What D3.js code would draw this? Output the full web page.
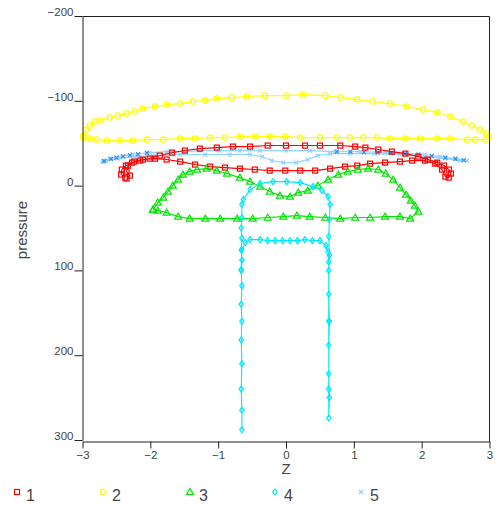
<!DOCTYPE html>
<html>
<head>
<meta charset="utf-8">
<script src="https://cdn.jsdelivr.net/npm/d3@7"></script>
<style>
  body { margin: 0; background: #fff; }
  text { font-family: "Liberation Sans", Arial, sans-serif; fill: #444; }
</style>
</head>
<body>
<svg id="chart" width="499" height="507"></svg>
<script>
// series as [Z, pressure] pairs
const series1 = [[-2.37,-9.4],[-2.43,-13],[-2.42,-18.9],[-2.36,-23.6],[-2.27,-27.1],[-2.15,-29.5],[-2.01,-31.8],[-1.86,-35.4],[-1.68,-38.9],[-1.49,-41.3],[-1.27,-43.6],[-1.02,-44.8],[-0.78,-46],[-0.53,-46],[-0.27,-47.2],[0,-47.2],[0.28,-47.2],[0.5,-47.2],[0.8,-47.2],[1.02,-46],[1.17,-44.8],[1.36,-42.5],[1.56,-40.1],[1.76,-37.7],[1.95,-34.2],[2.09,-30.7],[2.23,-27.1],[2.33,-23.6],[2.4,-18.9],[2.43,-14.2],[2.4,-9.4],[2.35,-10.6],[2.3,-18.9],[2.2,-25.9],[2.05,-29.5],[1.86,-29.5],[1.68,-28.3],[1.46,-27.1],[1.24,-25.9],[1.05,-23.6],[0.87,-22.4],[0.65,-20],[0.43,-17.7],[0.21,-17.7],[-0.01,-17.7],[-0.24,-17.7],[-0.46,-18.9],[-0.68,-20],[-0.9,-21.2],[-1.12,-22.4],[-1.34,-24.8],[-1.56,-28.3],[-1.76,-30.7],[-1.93,-31.8],[-2.11,-30.7],[-2.24,-28.3],[-2.33,-23.6],[-2.35,-16.5],[-2.3,-11.8],[-2.35,-8.3]]

const series2 = [[-2.99,-57.8],[-2.95,-66],[-2.89,-70.8],[-2.82,-75.5],[-2.74,-76.7],[-2.6,-80.2],[-2.48,-82.5],[-2.35,-84.9],[-2.23,-87.3],[-2.11,-90.8],[-1.93,-93.2],[-1.76,-95.5],[-1.56,-96.7],[-1.37,-99.1],[-1.19,-100.2],[-1.02,-102.6],[-0.8,-103.8],[-0.58,-105],[-0.31,-106.1],[0.01,-106.1],[0.25,-107.3],[0.58,-106.1],[0.8,-103.8],[1.05,-101.4],[1.28,-99.1],[1.53,-96.7],[1.78,-93.2],[2.02,-89.6],[2.23,-86.1],[2.42,-81.4],[2.61,-75.5],[2.74,-70.8],[2.86,-66],[2.95,-61.3],[2.99,-57.8],[2.94,-54.2],[2.79,-54.2],[2.67,-54.2],[2.42,-55.4],[2.23,-55.4],[1.98,-55.4],[1.76,-55.4],[1.53,-55.4],[1.34,-56.6],[1.14,-56.6],[0.94,-56.6],[0.75,-56.6],[0.5,-56.6],[0.21,-56.6],[-0.01,-57.8],[-0.24,-57.8],[-0.46,-57.8],[-0.68,-57.8],[-0.9,-56.6],[-1.12,-56.6],[-1.34,-55.4],[-1.56,-55.4],[-1.81,-54.2],[-2.05,-54.2],[-2.26,-53.1],[-2.45,-53.1],[-2.64,-53.1],[-2.79,-54.2],[-2.89,-55.4],[-2.96,-56.6],[-2.99,-57.8]]

const series3 = [[-1.96,28.3],[-1.89,20],[-1.81,14.2],[-1.74,7.1],[-1.67,0],[-1.59,-7.1],[-1.52,-13],[-1.42,-16.5],[-1.31,-18.9],[-1.17,-20],[-1.02,-17.7],[-0.87,-14.2],[-0.68,-9.4],[-0.53,-4.7],[-0.38,1.2],[-0.24,7.1],[-0.09,11.8],[0.06,13],[0.18,8.3],[0.32,5.9],[0.47,0],[0.62,-7.1],[0.77,-13],[0.91,-16.5],[1.06,-18.9],[1.21,-20],[1.36,-18.9],[1.47,-14.2],[1.58,-7.1],[1.68,2.4],[1.77,10.6],[1.84,17.7],[1.9,23.6],[1.95,30.7],[1.83,38.9],[1.68,36.6],[1.46,36.6],[1.24,37.7],[1.02,37.7],[0.8,38.9],[0.58,37.7],[0.35,36.6],[0.16,35.4],[-0.04,36.6],[-0.27,37.7],[-0.49,38.9],[-0.72,38.9],[-0.97,38.9],[-1.19,38.9],[-1.42,38.9],[-1.59,36.6],[-1.76,31.8],[-1.89,29.5],[-1.96,28.3]]

const series4 = [[-0.65,288],[-0.65,265],[-0.66,240],[-0.65,210],[-0.66,182],[-0.65,160],[-0.66,140],[-0.65,118],[-0.66,100],[-0.65,88],[-0.66,76],[-0.65,62],[-0.66,50],[-0.65,38],[-0.65,22.4],[-0.63,16.5],[-0.53,4.7],[-0.38,-2.4],[-0.19,-4.7],[0.01,-4.7],[0.21,-3.5],[0.4,1.2],[0.53,5.9],[0.62,13],[0.65,22.4],[0.64,40],[0.63,60],[0.64,82],[0.63,100],[0.63,128],[0.64,160],[0.63,188],[0.63,222],[0.64,250],[0.63,274],[0.63,240],[0.63,160],[0.63,90],[0.62,78],[0.59,70.8],[0.5,64.9],[0.39,64.9],[0.28,63.7],[0.17,64.9],[0.06,64.9],[-0.05,64.9],[-0.16,64.9],[-0.27,64.9],[-0.38,63.7],[-0.53,63.7],[-0.6,67.2],[-0.65,75.5],[-0.66,99]]

const series5 = [[-2.7,-28.3],[-2.6,-31.8],[-2.45,-34.2],[-2.26,-36.6],[-2.01,-38.9],[-1.76,-40.1],[-1.49,-40.1],[-1.27,-41.3],[-0.97,-41.3],[-0.68,-41.3],[-0.38,-41.3],[0,-41.3],[0.35,-41.3],[0.72,-40.1],[1.09,-40.1],[1.46,-38.9],[1.76,-37.7],[2.05,-36.6],[2.27,-34.2],[2.49,-31.8],[2.67,-29.5],[2.57,-29.5],[2.35,-31.8],[2.05,-34.2],[1.68,-36.6],[1.31,-37.7],[0.94,-37.7],[0.65,-37.7],[0.47,-35.4],[0.32,-30.7],[0.15,-27.1],[-0.04,-27.1],[-0.21,-29.5],[-0.35,-34.2],[-0.53,-36.6],[-0.83,-36.6],[-1.19,-36.6],[-1.56,-36.6],[-1.93,-35.4],[-2.23,-34.2],[-2.48,-31.8],[-2.65,-29.5],[-2.7,-28.3]]

// darker points of series 5 that show up at the ends of its upper edge
const series5dark = [[-2.68,-29],[-2.58,-31.5],[-2.5,-33],[-2.4,-34.5],[-2.3,-36],[-2.18,-37],[-2.05,-38.5],[0.75,-40],[0.95,-40],[1.15,-39.5],[1.35,-39],[1.55,-38.5],[1.75,-37.5],[1.95,-36.5],[2.15,-35],[2.35,-33],[2.5,-31.5],[2.62,-30]]

const seriesNames = ["1", "2", "3", "4", "5"]
const seriesColors = ["#ff0000", "#ffff00", "#00e600", "#00e8ff", "#8fd3ff"]
const zTicks = [-3, -2, -1, 0, 1, 2, 3]
const pressureTicks = [-200, -100, 0, 100, 200, 300]

const svg = d3.select("#chart")
const x = d3.scaleLinear().domain([-3, 3]).range([82.5, 489.5])
const y = d3.scaleLinear().domain([-200, 300]).range([16, 440])

const line = d3.line().x(d => x(d[0])).y(d => y(d[1]))

function drawMarker(g, shape, color, px, py) {
  if (shape == "square") {
    g.append("rect").attr("x", px - 2.5).attr("y", py - 2.5).attr("width", 5).attr("height", 5)
      .attr("fill", "none").attr("stroke", color).attr("stroke-width", 1.2)
  } else if (shape == "circle") {
    g.append("circle").attr("cx", px).attr("cy", py).attr("r", 2.7)
      .attr("fill", "none").attr("stroke", color).attr("stroke-width", 1.2)
  } else if (shape == "triangle") {
    g.append("path").attr("d", `M${px},${py - 3.5}L${px + 3.5},${py + 2.5}L${px - 3.5},${py + 2.5}Z`)
      .attr("fill", "none").attr("stroke", color).attr("stroke-width", 1.2)
  } else if (shape == "diamond") {
    g.append("path").attr("d", `M${px},${py - 3}L${px + 2.2},${py}L${px},${py + 3}L${px - 2.2},${py}Z`)
      .attr("fill", "none").attr("stroke", color).attr("stroke-width", 1.2)
  } else {
    g.append("path").attr("d", `M${px - 2},${py - 2}L${px + 2},${py + 2}M${px - 2},${py + 2}L${px + 2},${py - 2}`)
      .attr("stroke", color).attr("stroke-width", 1.2)
  }
}

const shapes = ["square", "circle", "triangle", "diamond", "cross"]
const allSeries = [series1, series2, series3, series4, series5]

// draw order: the loops in the back first, cyan on top of green
const order = [1, 4, 0, 2, 3]
order.forEach(i => {
  const g = svg.append("g")
  g.append("path").datum(allSeries[i]).attr("d", line)
    .attr("fill", "none").attr("stroke", seriesColors[i]).attr("stroke-width", 1.1)
  allSeries[i].forEach(d => drawMarker(g, shapes[i], seriesColors[i], x(d[0]), y(d[1])))
  if (i == 4) {
    series5dark.forEach(d => drawMarker(g, "cross", "#2b8cf0", x(d[0]), y(d[1])))
  }
})

// frame on top and right
svg.append("line").attr("x1", 82.5).attr("x2", 489.5).attr("y1", 16.5).attr("y2", 16.5).attr("stroke", "#222")
svg.append("line").attr("x1", 489.5).attr("x2", 489.5).attr("y1", 16.5).attr("y2", 441.5).attr("stroke", "#222")

const yAxis = svg.append("g").attr("transform", "translate(82.5,0)")
  .call(d3.axisLeft(y).tickValues(pressureTicks).tickSize(8).tickSizeOuter(0).tickFormat(d3.format("d")))
yAxis.select(".domain").attr("stroke", "#222")
yAxis.selectAll(".tick line").attr("stroke", "#222")
yAxis.selectAll(".tick text").attr("x", -9).attr("dy", "-0.05em")
  .style("font-size", "11.5px").style("font-family", "Liberation Sans, Arial, sans-serif").attr("fill", "#444")

const xAxis = svg.append("g").attr("transform", "translate(0,441.5)")
  .call(d3.axisBottom(x).tickValues(zTicks).tickSize(7).tickSizeOuter(0).tickFormat(d3.format("d")))
xAxis.select(".domain").attr("stroke", "#222")
xAxis.selectAll(".tick line").attr("stroke", "#222")
xAxis.selectAll(".tick text").attr("y", 9)
  .style("font-size", "11.5px").style("font-family", "Liberation Sans, Arial, sans-serif").attr("fill", "#444")

svg.append("text").attr("x", 286).attr("y", 474).attr("text-anchor", "middle")
  .style("font-size", "15px").text("Z")
svg.append("text").attr("transform", "translate(27,230) rotate(-90)").attr("text-anchor", "middle")
  .style("font-size", "15px").text("pressure")

// legend
const legendX = [17, 103, 190, 275, 361]
seriesNames.forEach((name, i) => {
  const g = svg.append("g")
  drawMarker(g, shapes[i], seriesColors[i], legendX[i], 492)
  g.append("text").attr("x", legendX[i] + 9).attr("y", 501).style("font-size", "16px").text(name)
})
</script>
</body>
</html>
